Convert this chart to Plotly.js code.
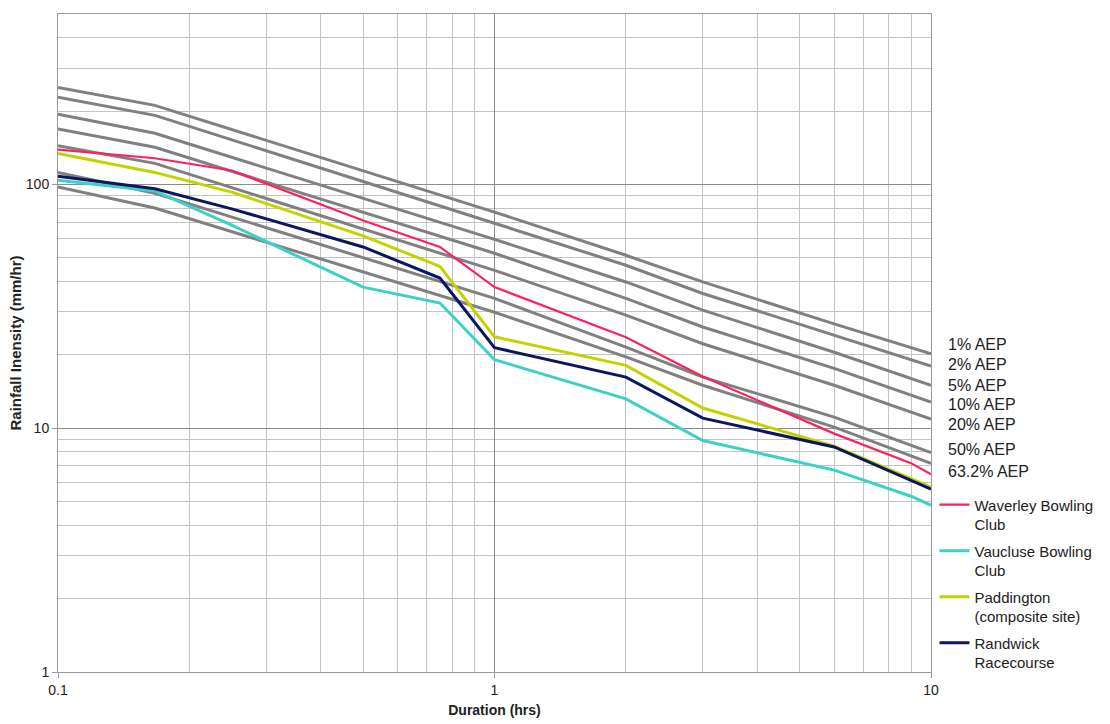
<!DOCTYPE html>
<html>
<head>
<meta charset="utf-8">
<script src="https://cdn.plot.ly/plotly-3.0.1.min.js"></script>
<style>html,body{margin:0;padding:0;background:#fff;}#chart{width:1110px;height:724px;}</style>
</head>
<body>
<div id="chart"></div>
<script>
// Durations (hrs) at which the AEP design curves were read
const durAEP = [0.1, 0.1667, 1, 2, 3, 6, 10];
const aep1   = [250, 211, 77.0, 51.2, 39.8, 26.8, 20.2];
const aep2   = [228, 192, 69.3, 46.6, 35.7, 24.0, 18.0];
const aep5   = [194, 162, 59.5, 39.8, 30.5, 20.5, 15.0];
const aep10  = [169, 142, 52.2, 34.1, 26.0, 17.6, 12.8];
const aep20  = [144, 122, 44.4, 29.1, 22.2, 15.0, 10.9];
const aep50  = [112, 92, 34.1, 21.5, 16.2, 11.1, 7.95];
const aep632 = [97.5, 80, 29.9, 19.6, 15.0, 10.1, 7.17];
const aepNames = ["1% AEP", "2% AEP", "5% AEP", "10% AEP", "20% AEP", "50% AEP", "63.2% AEP"];

// Durations (hrs) of the observed storm intensities
const durSite = [0.1, 0.1667, 0.25, 0.5, 0.75, 1, 2, 3, 6, 9, 10];
const waverley   = [139, 128, 114, 71.1, 55.4, 37.9, 23.6, 16.3, 9.5, 7.19, 6.47];
const vaucluse   = [104, 94, 68, 37.9, 32.6, 19.1, 13.2, 8.9, 6.73, 5.26, 4.83];
const paddington = [134, 112, 93, 61.5, 46.1, 23.7, 18.1, 12.1, 8.44, 6.24, 5.73];
const randwick   = [108, 96, 79.4, 55.4, 41.3, 21.4, 16.2, 11.0, 8.38, 6.07, 5.62];
const siteNames = ["Waverley Bowling<br>Club", "Vaucluse Bowling<br>Club", "Paddington<br>(composite site)", "Randwick<br>Racecourse"];

// Label positions for the AEP names (paper y fractions)
const aepLabelY = [0.497, 0.467, 0.436, 0.406, 0.376, 0.338, 0.304];

const aepSeries = [aep1, aep2, aep5, aep10, aep20, aep50, aep632];
const siteSeries = [waverley, vaucluse, paddington, randwick];
const siteColors = ["#ff2060", "#3dd1c6", "#c4d200", "#0c1660"];
const siteWidths = [2.2, 3, 3, 3];

const traces = [];
aepSeries.forEach((ys, i) => {
  traces.push({
    x: durAEP, y: ys, type: "scatter", mode: "lines",
    name: aepNames[i], showlegend: false, hoverinfo: "skip",
    line: {color: "#808080", width: 3}
  });
});
siteSeries.forEach((ys, i) => {
  traces.push({
    x: durSite, y: ys, type: "scatter", mode: "lines",
    name: siteNames[i], legendgroup: "g" + i,
    line: {color: siteColors[i], width: siteWidths[i]}
  });
});

const annotations = aepNames.map((t, i) => ({
  xref: "paper", yref: "paper", x: 1.017, y: aepLabelY[i],
  xanchor: "left", yanchor: "middle", showarrow: false,
  text: t, font: {family: "Liberation Sans, Arial, sans-serif", size: 16, color: "#222"}
}));

const axisCommon = {
  type: "log",
  showline: true, mirror: true, linecolor: "#9a9a9a", linewidth: 1,
  showgrid: true, gridcolor: "#8c8c8c", gridwidth: 1,
  ticks: "outside", ticklen: 5, tickcolor: "#9a9a9a",
  tickfont: {family: "Liberation Sans, Arial, sans-serif", size: 14, color: "#222"},
  dtick: 1, zeroline: false,
  minor: {dtick: "D1", showgrid: true, gridcolor: "#c4c4c4", gridwidth: 1, ticks: ""}
};

const layout = {
  width: 1110, height: 724,
  margin: {l: 58, r: 176, t: 14, b: 52},
  paper_bgcolor: "#ffffff", plot_bgcolor: "#ffffff",
  showlegend: true,
  legend: {
    x: 1.004, y: 0.279, xanchor: "left", yanchor: "top",
    traceorder: "grouped", tracegroupgap: 4, valign: "top",
    font: {family: "Liberation Sans, Arial, sans-serif", size: 15, color: "#222"},
    bgcolor: "rgba(0,0,0,0)", itemwidth: 30
  },
  xaxis: Object.assign({}, axisCommon, {
    range: [-1, 1],
    title: {text: "Duration (hrs)", font: {family: "Liberation Sans, Arial, sans-serif", size: 14, color: "#222", weight: "bold"}, standoff: 8}
  }),
  yaxis: Object.assign({}, axisCommon, {
    range: [0, Math.log10(500)],
    title: {text: "Rainfall Inensity (mm/hr)", font: {family: "Liberation Sans, Arial, sans-serif", size: 15, color: "#222", weight: "bold"}, standoff: 0}
  }),
  annotations: annotations
};

Plotly.newPlot("chart", traces, layout, {displayModeBar: false, responsive: false});
</script>
</body>
</html>
